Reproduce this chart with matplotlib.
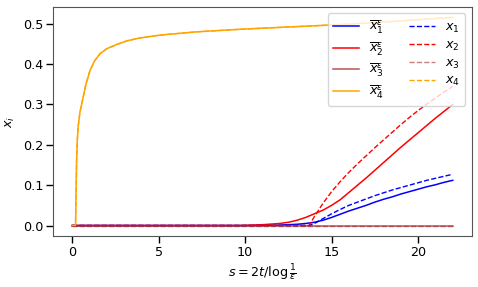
import matplotlib
matplotlib.use('Agg')
import matplotlib.pyplot as plt

# orange (x4 and its approximation, they overlap)
s4 = [0, 0.2, 0.23, 0.26, 0.3, 0.35, 0.45, 0.6, 0.8, 1.04, 1.3, 1.62, 2.0, 2.6, 3.2, 3.94, 5.1, 7.2, 10, 13, 16, 19, 22]
x4 = [0, 0, 0.08, 0.16, 0.21, 0.245, 0.28, 0.31, 0.35, 0.385, 0.408, 0.426, 0.438, 0.449, 0.458, 0.465, 0.472, 0.480, 0.487, 0.493, 0.499, 0.507, 0.516]

s_lin = [0, 9.7, 11, 12, 12.5, 13, 13.5, 14, 14.5, 15, 15.5, 16, 16.5, 17, 17.5, 18, 18.5, 19, 19.5, 20, 20.5, 21, 21.5, 22]
xbar1 = [0, 0, 0, 0.001, 0.002, 0.003, 0.005, 0.008, 0.013, 0.020, 0.028, 0.036, 0.043, 0.050, 0.058, 0.065, 0.071, 0.078, 0.084, 0.090, 0.096, 0.101, 0.107, 0.112]
xbar2 = [0, 0, 0.002, 0.005, 0.008, 0.013, 0.020, 0.029, 0.038, 0.050, 0.064, 0.082, 0.100, 0.118, 0.137, 0.156, 0.175, 0.194, 0.212, 0.230, 0.248, 0.266, 0.283, 0.300]
xbar3 = [0] * len(s_lin)

s_ode = [0, 13.7, 14.0, 14.5, 15, 15.5, 16, 16.5, 17, 17.5, 18, 18.5, 19, 19.5, 20, 20.5, 21, 21.5, 22]
x1 = [0, 0, 0.005, 0.017, 0.029, 0.040, 0.050, 0.058, 0.066, 0.074, 0.081, 0.088, 0.094, 0.100, 0.106, 0.112, 0.117, 0.122, 0.127]
x2 = [0, 0, 0.022, 0.055, 0.084, 0.109, 0.132, 0.153, 0.173, 0.193, 0.212, 0.231, 0.250, 0.268, 0.285, 0.301, 0.316, 0.331, 0.345]
x3 = [0] * len(s_ode)

plt.rcParams['font.size'] = 9.2
plt.rcParams['xtick.major.size'] = 5
plt.rcParams['ytick.major.size'] = 5
plt.rcParams['xtick.major.width'] = 1
plt.rcParams['ytick.major.width'] = 1
plt.rcParams['xtick.major.pad'] = 2.5
plt.rcParams['ytick.major.pad'] = 2
plt.rcParams['axes.edgecolor'] = '#555555'

fig, ax = plt.subplots(figsize=(4.78, 2.87), dpi=100)

ax.plot(s_lin, xbar1, color='blue', lw=1.1, label=r'$\overline{x}_1^\varepsilon$')
ax.plot(s_lin, xbar2, color='red', lw=1.1, label=r'$\overline{x}_2^\varepsilon$')
ax.plot(s_lin, xbar3, color='brown', alpha=0.8, lw=1.1, label=r'$\overline{x}_3^\varepsilon$')
ax.plot(s4, x4, color='orange', lw=1.1, label=r'$\overline{x}_4^\varepsilon$')
ax.plot(s_ode, x1, color='blue', ls='--', lw=1, label=r'$x_1$')
ax.plot(s_ode, x2, color='red', ls='--', lw=1, label=r'$x_2$')
ax.plot(s_ode, x3, color='brown', alpha=0.6, ls='--', lw=1, label=r'$x_3$')
ax.plot(s4, x4, color='orange', ls='--', lw=1, label=r'$x_4$')

ax.set_xlabel(r'$s=2t/\log\frac{1}{\varepsilon}$', labelpad=2)
ax.set_ylabel(r'$x_i$')
ax.legend(ncol=2, loc='upper right', fontsize=9.2, labelspacing=0.3)

fig.subplots_adjust(left=0.111, right=0.987, top=0.976, bottom=0.178)
fig.savefig('out.png', dpi=100)
